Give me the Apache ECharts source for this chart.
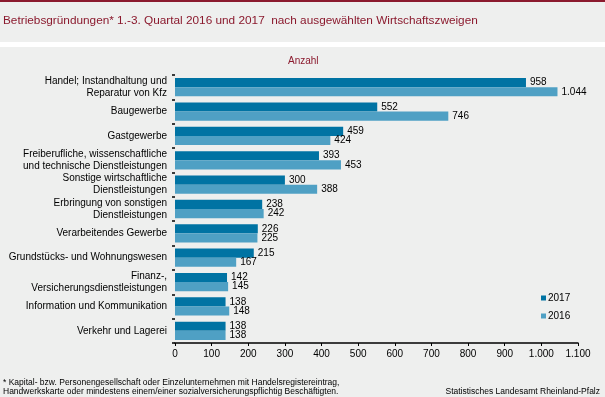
<!DOCTYPE html>
<html>
<head>
<meta charset="utf-8">
<script src="https://cdn.jsdelivr.net/npm/echarts@6/dist/echarts.min.js"></script>
<style>
  html, body { margin: 0; padding: 0; background: #eeefee; }
  #chart { width: 605px; height: 397px; }
</style>
</head>
<body>
<div id="chart"></div>
<script>
// Wirtschaftszweige (von oben nach unten)
var categories = [
    'Handel; Instandhaltung und\nReparatur von Kfz',
    'Baugewerbe',
    'Gastgewerbe',
    'Freiberufliche, wissenschaftliche\nund technische Dienstleistungen',
    'Sonstige wirtschaftliche\nDienstleistungen',
    'Erbringung von sonstigen\nDienstleistungen',
    'Verarbeitendes Gewerbe',
    'Grundstücks- und Wohnungswesen',
    'Finanz-,\nVersicherungsdienstleistungen',
    'Information und Kommunikation',
    'Verkehr und Lagerei'
];
var values2017 = [958, 552, 459, 393, 300, 238, 226, 215, 142, 138, 138];
var values2016 = [1044, 746, 424, 453, 388, 242, 225, 167, 145, 148, 138];
var xTicks = [0, 100, 200, 300, 400, 500, 600, 700, 800, 900, 1000, 1100];

var dark = '#8b1a2e';

// Zahlen im deutschen Format (1.044)
function fmt(v) {
    return String(v).replace(/\B(?=(\d{3})+(?!\d))/g, '.');
}

var myChart = echarts.init(document.getElementById('chart'));

var option = {
    backgroundColor: '#eeefee',
    animation: false,
    color: ['#0073a3', '#4fa0c4'],
    textStyle: { fontFamily: 'Liberation Sans, Arial, sans-serif' },
    graphic: [
        { type: 'rect', shape: { x: 0, y: 0, width: 605, height: 2 }, style: { fill: dark } },
        { type: 'rect', shape: { x: 0, y: 42, width: 605, height: 5 }, style: { fill: '#ffffff' } },
        {
            type: 'text', left: 3, top: 15,
            style: { text: 'Betriebsgründungen* 1.-3. Quartal 2016 und 2017  nach ausgewählten Wirtschaftszweigen',
                     fill: dark, font: '11.8px Liberation Sans, Arial, sans-serif' }
        },
        {
            type: 'text', left: 288, top: 56,
            style: { text: 'Anzahl', fill: dark, font: '10px Liberation Sans, Arial, sans-serif' }
        },
        {
            type: 'text', left: 3, top: 378,
            style: { text: '* Kapital- bzw. Personengesellschaft oder Einzelunternehmen mit Handelsregistereintrag,\nHandwerkskarte oder mindestens einem/einer sozialversicherungspflichtig Beschäftigten.',
                     fill: '#000', font: '8.5px Liberation Sans, Arial, sans-serif', lineHeight: 9 }
        },
        {
            type: 'text', right: 5, top: 387,
            style: { text: 'Statistisches Landesamt Rheinland-Pfalz', fill: '#000',
                     font: '8.5px Liberation Sans, Arial, sans-serif' }
        }
    ],
    legend: {
        orient: 'vertical',
        left: 541,
        top: 293,
        padding: 0,
        itemWidth: 5,
        itemHeight: 5,
        itemGap: 8,
        icon: 'rect',
        textStyle: { fontSize: 10, color: '#000', padding: [0, 0, 0, -3] },
        data: ['2017', '2016']
    },
    grid: {
        left: 175,
        right: 27,
        top: 75,
        bottom: 54
    },
    xAxis: {
        type: 'value',
        min: 0,
        max: 1100,
        interval: 100,
        axisLine: { show: true, lineStyle: { color: '#000', width: 1.5 } },
        axisTick: { show: true, length: 3, lineStyle: { color: '#000' } },
        splitLine: { show: false },
        axisLabel: {
            color: '#000', fontSize: 10, margin: 6,
            formatter: function (v) { return xTicks.indexOf(v) >= 0 ? fmt(v) : ''; }
        }
    },
    yAxis: {
        type: 'category',
        inverse: true,
        data: categories,
        axisLine: { show: false },
        axisTick: { show: true, length: 3, lineStyle: { color: '#000', width: 1.5 } },
        axisLabel: { color: '#000', fontSize: 10, lineHeight: 12, margin: 8 }
    },
    series: [
        {
            name: '2017',
            type: 'bar',
            data: values2017,
            barGap: '0%',
            barCategoryGap: '25%',
            label: { show: true, position: 'right', distance: 4, color: '#000', fontSize: 10,
                     formatter: function (p) { return fmt(p.value); } }
        },
        {
            name: '2016',
            type: 'bar',
            data: values2016,
            barGap: '0%',
            barCategoryGap: '25%',
            label: { show: true, position: 'right', distance: 4, color: '#000', fontSize: 10,
                     formatter: function (p) { return fmt(p.value); } }
        }
    ]
};

myChart.setOption(option);
</script>
</body>
</html>
